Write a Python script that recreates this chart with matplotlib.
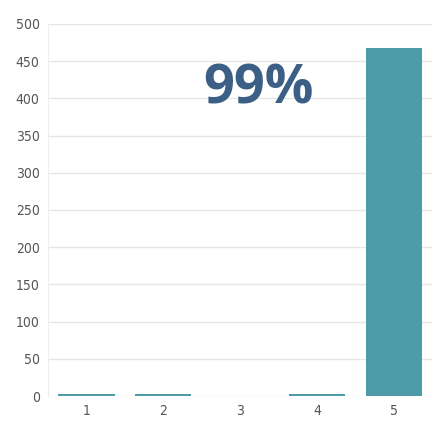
import matplotlib
matplotlib.use("Agg")
import matplotlib.pyplot as plt

categories = ["1", "2", "3", "4", "5"]
values = [3, 3, 0, 3, 468]
yticks = [0, 50, 100, 150, 200, 250, 300, 350, 400, 450, 500]
annotation = "99%"

fig = plt.figure(figsize=(4.33, 4.26), dpi=100)
ax = fig.add_axes([0.111, 0.0704, 0.887, 0.8733])
x = list(range(len(categories)))
ax.bar(x, values, width=0.73, color="#4E9CA8", zorder=3)
ax.set_xlim(-0.5, len(categories) - 0.5)
ax.set_ylim(0, 500)
ax.set_yticks(yticks)
ax.set_yticklabels([str(t) for t in yticks])
ax.set_xticks(x)
ax.set_xticklabels(categories)
ax.grid(axis="y", color="#E6E6E6", linewidth=1, zorder=0)
for s in ["top", "right", "bottom"]:
    ax.spines[s].set_visible(False)
ax.spines["left"].set_color("#EEEEEE")
ax.tick_params(axis="both", length=0, labelsize=10, labelcolor="#555555",
               pad=6)
for lab in ax.get_xticklabels() + ax.get_yticklabels():
    lab.set_fontstretch("condensed")
    lab.set_family("DejaVu Sans")
ax.text(2.24, 412, annotation, ha="center", va="center", fontsize=39,
        fontweight="bold", color="#3B5F85", family="Open Sans")
fig.savefig("out.png", dpi=100)
